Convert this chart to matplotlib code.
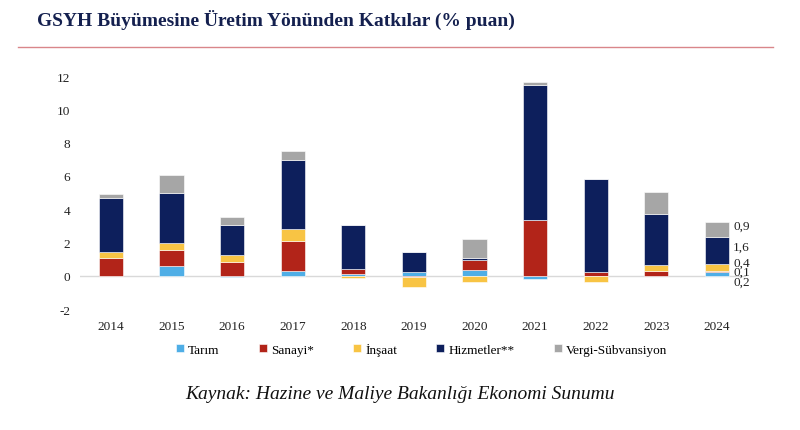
import matplotlib.pyplot as plt
import numpy as np

plt.rcParams['axes.unicode_minus'] = False

years = ["2014", "2015", "2016", "2017", "2018", "2019", "2020", "2021", "2022", "2023", "2024"]
tarim = [0.0, 0.6, -0.1, 0.3, 0.1, 0.2, 0.35, -0.2, 0.0, 0.0, 0.2]
sanayi = [1.05, 0.95, 0.85, 1.8, 0.3, -0.05, 0.6, 3.35, 0.25, 0.28, 0.1]
insaat = [0.35, 0.4, 0.4, 0.72, -0.15, -0.65, -0.35, 0.0, -0.35, 0.35, 0.4]
hizmetler = [3.25, 3.0, 1.8, 4.15, 2.65, 1.25, 0.1, 8.1, 5.55, 3.1, 1.6]
vergi = [0.25, 1.1, 0.45, 0.5, 0.0, 0.0, 1.15, 0.2, 0.0, 1.3, 0.9]

series = [tarim, sanayi, insaat, hizmetler, vergi]
names = ["Tarım", "Sanayi*", "İnşaat", "Hizmetler**", "Vergi-Sübvansiyon"]
colors = ["#4FAEE6", "#B22419", "#F8C444", "#0D1F5C", "#A6A6A6"]
labels_2024 = ["0,2", "0,1", "0,4", "1,6", "0,9"]

fig = plt.figure(figsize=(8, 4.31), dpi=100)
ax = fig.add_axes([0.1, 0.2807, 0.8325, 0.5406])

x = np.arange(len(years))
pos = np.zeros(len(years))
neg = np.zeros(len(years))
for vals, name, c in zip(series, names, colors):
    v = np.array(vals)
    bottom = np.where(v >= 0, pos, neg)
    ax.bar(x, v, 0.4, bottom=bottom, color=c, label=name, edgecolor="white", linewidth=0.4)
    pos = pos + np.where(v >= 0, v, 0)
    neg = neg + np.where(v < 0, v, 0)

# labels next to the 2024 bar (shifted a bit like in the source so they don't pile up)
offs = [-0.48, -0.03, 0.27, 0.23, 0.25]
base = 0.0
for vals, lab, o in zip(series, labels_2024, offs):
    v = vals[-1]
    ax.text(x[-1] + 0.27, base + v / 2 + o, lab, va="center", ha="left",
            fontsize=9.5, family="Liberation Serif", color="#222222")
    base += v

ax.axhline(0, color="#d9d9d9", lw=1, zorder=0)
ax.set_ylim(-2, 12)
ax.set_xlim(-0.51, 10.48)
ax.set_yticks(range(-2, 13, 2))
ax.set_xticks(x)
ax.set_xticklabels(years)
for s in ax.spines.values():
    s.set_visible(False)
ax.tick_params(length=0, labelsize=9.5, labelcolor="#222222", pad=8)
ax.tick_params(axis="y", pad=7)
for t in ax.get_xticklabels() + ax.get_yticklabels():
    t.set_family("Liberation Serif")

leg = fig.legend(loc="center", bbox_to_anchor=(0.527, 0.187), ncol=5, frameon=False,
                 handlelength=0.6, handleheight=0.6, columnspacing=3.0, handletextpad=0.3,
                 prop={"family": "Liberation Serif", "size": 9.5})

fig.text(0.046, 0.953, "GSYH Büyümesine Üretim Yönünden Katkılar (% puan)", fontsize=14,
         fontweight="bold", family="Liberation Serif", color="#14204F", va="center")
fig.add_artist(plt.Line2D([0.023, 0.966], [0.888, 0.888], color="#D9868A", lw=1))
fig.text(0.5, 0.085, "Kaynak: Hazine ve Maliye Bakanlığı Ekonomi Sunumu", fontsize=14,
         style="italic", family="Liberation Serif", color="#111111", ha="center", va="center")

fig.savefig("out.png", dpi=100)
